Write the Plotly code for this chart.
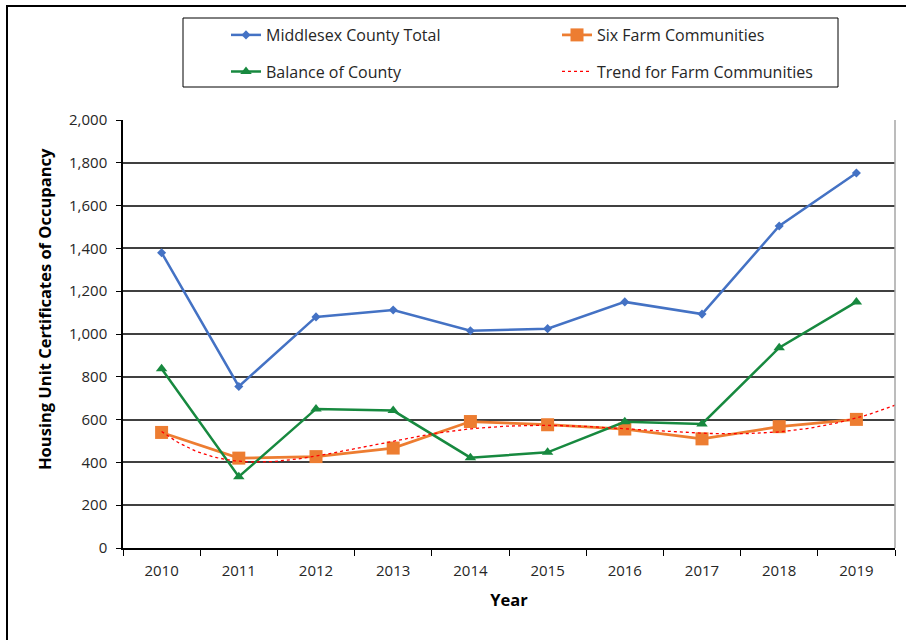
import numpy as np
import plotly.graph_objects as go

# Housing unit certificates of occupancy, Middlesex County
years = [2010, 2011, 2012, 2013, 2014, 2015, 2016, 2017, 2018, 2019]
county_total = [1380, 755, 1080, 1112, 1015, 1025, 1150, 1093, 1505, 1752]
farm_communities = [540, 420, 427, 467, 591, 576, 556, 510, 567, 601]
balance_of_county = [838, 333, 650, 642, 422, 447, 590, 580, 936, 1150]
y_ticks = [0, 200, 400, 600, 800, 1000, 1200, 1400, 1600, 1800, 2000]

TREND_ORDER = 5          # polynomial order of the farm-community trendline
TREND_FORWARD = 0.5      # periods the trendline is projected forward

# plot-area geometry (pixels)
W, H = 906, 640
L, R, T, B = 123, 11, 120, 92
PW, PH = W - L - R, H - T - B


def px_x(p):
    return (p - L) / PW


def px_y(p):
    return (H - B - p) / PH


BLUE, ORANGE, GREEN, RED = "#4472C4", "#ED7D31", "#17893F", "#FF0000"
TXT = "#262626"

fig = go.Figure()

fig.add_trace(go.Scatter(
    x=years, y=county_total, name="Middlesex County Total", mode="lines+markers",
    line=dict(color=BLUE, width=2.5), marker=dict(symbol="diamond", size=7, color=BLUE),
    legend="legend"))
fig.add_trace(go.Scatter(
    x=years, y=farm_communities, name="Six Farm Communities", mode="lines+markers",
    line=dict(color=ORANGE, width=2.75), marker=dict(symbol="square", size=13, color=ORANGE),
    legend="legend2"))
fig.add_trace(go.Scatter(
    x=years, y=balance_of_county, name="Balance of County", mode="lines+markers",
    line=dict(color=GREEN, width=2.5), marker=dict(symbol="triangle-up", size=10, color=GREEN),
    legend="legend3"))

# polynomial trendline fitted to the farm-community series (x = 1..n)
t = np.arange(1, len(years) + 1)
coef = np.polyfit(t, farm_communities, TREND_ORDER)
t_fine = np.linspace(1, len(years) + TREND_FORWARD, 200)
fig.add_trace(go.Scatter(
    x=t_fine + (years[0] - 1), y=np.polyval(coef, t_fine),
    name="Trend for Farm Communities", mode="lines",
    line=dict(color=RED, width=1.3, dash="dot"), legend="legend4"))

axis_font = dict(family="Open Sans", size=15, color=TXT)
title_font = dict(family="Open Sans", size=16.5, color="#000000")

fig.update_layout(
    width=W, height=H,
    margin=dict(l=L, r=R, t=T, b=B),
    paper_bgcolor="white", plot_bgcolor="white",
    showlegend=True,
    xaxis=dict(
        range=[2009.5, 2019.5], tickmode="array", tickvals=years,
        ticktext=[str(y) for y in years], ticks="", showgrid=False,
        tickfont=axis_font, ticklabelstandoff=8,
        showline=True, linecolor="#000000", linewidth=1.5,
        minor=dict(tick0=2009.5, dtick=1, ticks="outside", ticklen=6,
                   tickcolor="#000000", tickwidth=1.2, showgrid=False),
        title=dict(text="<b>Year</b>", font=title_font, standoff=16),
        zeroline=False, fixedrange=True),
    yaxis=dict(
        range=[0, 2000], tickmode="array", tickvals=y_ticks,
        ticktext=[f"{v:,}" for v in y_ticks], ticks="outside", ticklen=5,
        tickcolor="#000000", tickwidth=1.2, tickfont=axis_font, ticklabelstandoff=6,
        showgrid=True, gridcolor="#404040", gridwidth=1.5,
        showline=True, linecolor="#000000", linewidth=1.5,
        zeroline=False, fixedrange=True),
)

# y-axis title, placed as a rotated annotation
fig.add_annotation(
    text="<b>Housing Unit Certificates of Occupancy</b>", textangle=-90,
    xref="paper", yref="paper", x=px_x(44), y=px_y(309),
    xanchor="center", yanchor="middle", showarrow=False, font=title_font)

legend_font = dict(family="Open Sans", size=16, color=TXT)
common = dict(xanchor="left", yanchor="middle", bgcolor="rgba(0,0,0,0)",
              borderwidth=0, font=legend_font, itemwidth=30, itemsizing="trace")
fig.update_layout(
    legend=dict(x=px_x(226), y=px_y(35), **common),
    legend2=dict(x=px_x(557), y=px_y(35), **common),
    legend3=dict(x=px_x(226), y=px_y(71.5), **common),
    legend4=dict(x=px_x(557), y=px_y(71.5), **common),
)

shapes = [
    # outer frame
    dict(type="rect", xref="paper", yref="paper", x0=px_x(7), x1=px_x(915),
         y0=px_y(650), y1=px_y(6), line=dict(color="#000000", width=2)),
    # legend box
    dict(type="rect", xref="paper", yref="paper", x0=px_x(183), x1=px_x(838),
         y0=px_y(87), y1=px_y(18), line=dict(color="#000000", width=1)),
    # plot-area right edge
    dict(type="line", xref="paper", yref="paper", x0=1, x1=1, y0=0, y1=1,
         line=dict(color="#A6A6A6", width=1.5)),
]
fig.update_layout(shapes=shapes)

fig.write_html("out.html")
